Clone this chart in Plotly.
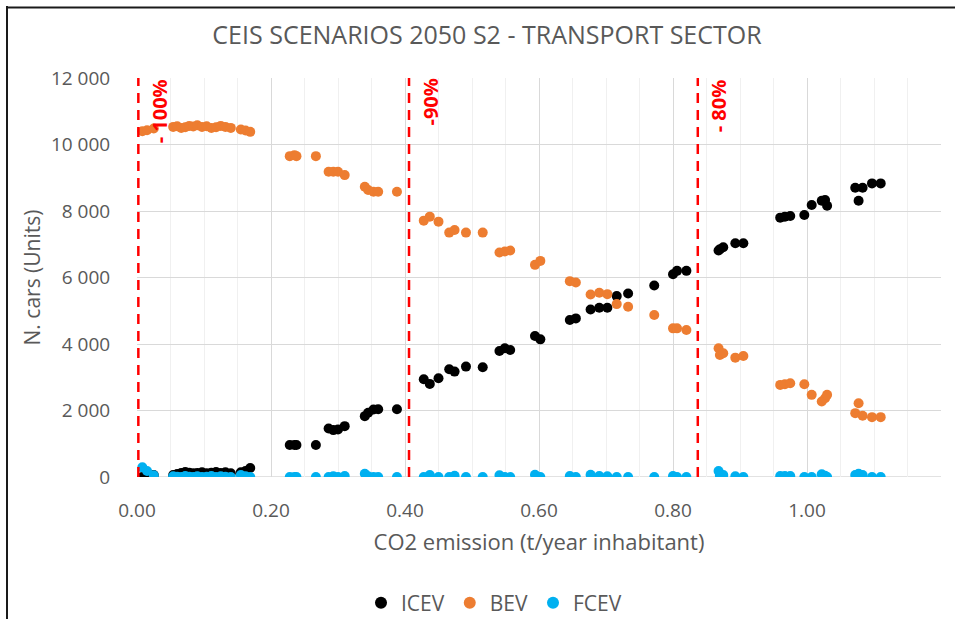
import plotly.graph_objects as go

# ---- data ----
co2 = [0.008, 0.015, 0.025,
       0.054, 0.060, 0.066, 0.072, 0.078, 0.084, 0.090, 0.097, 0.104, 0.111, 0.118, 0.125, 0.132, 0.140, 0.155, 0.162, 0.169,
       0.228, 0.235, 0.238, 0.267, 0.286, 0.293, 0.300, 0.310, 0.340, 0.345, 0.353, 0.360, 0.388,
       0.428, 0.437, 0.450, 0.466, 0.474, 0.491, 0.516, 0.541, 0.549, 0.557, 0.594, 0.602, 0.646, 0.655,
       0.677, 0.690, 0.702, 0.716, 0.733, 0.772, 0.800, 0.806, 0.820,
       0.868, 0.870, 0.875, 0.893, 0.905, 0.960, 0.967, 0.975, 0.996, 1.007, 1.022, 1.027, 1.030,
       1.072, 1.077, 1.083, 1.097, 1.110]
icev = [0, 40, 60,
        60, 90, 120, 150, 130, 110, 120, 140, 110, 130, 150, 120, 140, 110, 140, 180, 270,
        960, 960, 960, 960, 1460, 1410, 1430, 1530, 1830, 1930, 2030, 2040, 2040,
        2940, 2800, 2970, 3240, 3170, 3320, 3300, 3790, 3870, 3820, 4240, 4140, 4720, 4770,
        5040, 5090, 5090, 5440, 5520, 5760, 6100, 6200, 6200,
        6810, 6850, 6910, 7030, 7030, 7800, 7830, 7850, 7880, 8180, 8310, 8330, 8160,
        8700, 8310, 8700, 8830, 8830]
bev = [10400, 10430, 10480,
       10530, 10550, 10500, 10520, 10560, 10540, 10580, 10530, 10550, 10500, 10520, 10560, 10530, 10500, 10450, 10420, 10380,
       9650, 9680, 9650, 9650, 9180, 9180, 9180, 9080, 8730, 8630, 8580, 8580, 8580,
       7710, 7830, 7680, 7350, 7430, 7350, 7350, 6750, 6780, 6810, 6380, 6500, 5890, 5850,
       5490, 5540, 5500, 5200, 5120, 4870, 4470, 4470, 4420,
       3870, 3670, 3720, 3590, 3640, 2770, 2790, 2820, 2790, 2470, 2270, 2370, 2470,
       1920, 2220, 1840, 1800, 1800]
fcev = [290, 180, 50,
        20, 10, 0, 30, 10, 0, 20, 0, 10, 30, 0, 20, 10, 0, 60, 20, 0,
        0, 0, 0, 0, 0, 20, 0, 30, 100, 20, 0, 0, 0,
        0, 60, 0, 0, 40, 0, 0, 50, 0, 0, 70, 0, 30, 0,
        70, 30, 20, 0, 0, 0, 30, 0, 0,
        180, 50, 60, 20, 0, 30, 30, 30, 0, 0, 80, 40, 0,
        60, 100, 60, 0, 0]

series_names = ["ICEV", "BEV", "FCEV"]
series_colors = ["#000000", "#ED7D31", "#00B0F0"]

threshold_x = [0.002, 0.406, 0.837]
threshold_labels = ["- 100%", "-90%", "- 80%"]

x_ticks = [0.0, 0.2, 0.4, 0.6, 0.8, 1.0, 1.2]
y_ticks = [0, 2000, 4000, 6000, 8000, 10000, 12000]

title_text = "CEIS SCENARIOS 2050 S2 - TRANSPORT SECTOR"
x_title = "CO2 emission (t/year inhabitant)"
y_title = "N. cars (Units)"

FONT = "Open Sans"
GREY = "#595959"

fig = go.Figure()
for name, color, vals in zip(series_names, series_colors, [icev, bev, fcev]):
    fig.add_trace(go.Scatter(
        x=co2, y=vals, mode="markers", name=name,
        marker=dict(color=color, size=10, line=dict(width=0)),
    ))

# red dashed threshold lines and labels
for xv, lab in zip(threshold_x, threshold_labels):
    fig.add_shape(type="line", xref="x", yref="paper", x0=xv, x1=xv, y0=0, y1=1,
                  line=dict(color="#FF0000", width=2.5, dash="10px,7px"), layer="above")
    fig.add_annotation(x=xv, y=1, xref="x", yref="paper", text="<b>" + lab + "</b>", showarrow=False,
                       textangle=-90, xanchor="center", yanchor="top", xshift=21, yshift=1,
                       font=dict(family=FONT, size=20, color="#FF0000"))

# chart frame (left and top edges visible in the crop), drawn as thin filled bars
W, H = 955, 619
L, R, T, B = 137, 14, 78, 142
pw, ph = W - L - R, H - T - B
def px(xp):
    return (xp - L) / pw
def py(yp):
    return (H - B - yp) / ph
fig.add_shape(type="rect", xref="paper", yref="paper", x0=px(6), x1=px(8), y0=py(H + 5), y1=py(6),
              line=dict(width=0), fillcolor="#1a1a1a", layer="above")
fig.add_shape(type="rect", xref="paper", yref="paper", x0=px(6), x1=px(W + 5), y0=py(8.5), y1=py(6.5),
              line=dict(width=0), fillcolor="#1a1a1a", layer="above")

fig.update_layout(
    width=W, height=H,
    margin=dict(l=L, r=R, t=T, b=B, autoexpand=False),
    paper_bgcolor="white", plot_bgcolor="white",
    separators=". ",
    font=dict(family=FONT, size=19, color=GREY),
    title=dict(text=title_text, x=487 / W, xanchor="center", xref="container",
               y=1 - 35 / H, yanchor="middle", font=dict(family=FONT, size=25, color=GREY)),
    showlegend=True,
    legend=dict(orientation="h", x=px(494), xanchor="center", y=py(603), yanchor="middle",
                font=dict(family=FONT, size=21, color=GREY), itemsizing="constant",
                bgcolor="rgba(0,0,0,0)"),
    xaxis=dict(range=[0, 1.2], tickvals=x_ticks, tickformat=".2f", automargin=False,
               showgrid=True, gridcolor="#D9D9D9", gridwidth=1,
               minor=dict(dtick=0.05, showgrid=True, gridcolor="#F0F0F0", gridwidth=1),
               zeroline=False, showline=False,
               ticks="outside", ticklen=16, tickcolor="rgba(0,0,0,0)",
               title=dict(text=x_title, standoff=12, font=dict(family=FONT, size=22, color=GREY))),
    yaxis=dict(range=[0, 12000], tickvals=y_ticks, tickformat=",d", automargin=False,
               showgrid=True, gridcolor="#D9D9D9", gridwidth=1,
               zeroline=False, showline=False,
               ticks="outside", ticklen=22, tickcolor="rgba(0,0,0,0)",
               title=dict(text=y_title, standoff=4, font=dict(family=FONT, size=21, color=GREY))),
)
# bottom axis line at zero
fig.add_shape(type="line", xref="paper", yref="y", x0=0, x1=1, y0=0, y1=0,
              line=dict(color="#D9D9D9", width=1.5), layer="below")

fig.write_html("out.html", config={"displayModeBar": False},
               post_script="document.body.style.margin='0';document.body.style.overflow='hidden';")
